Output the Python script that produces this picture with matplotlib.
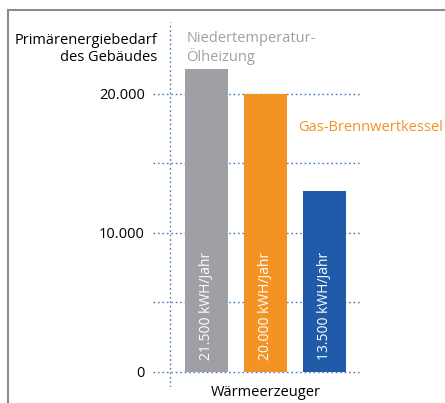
import matplotlib.pyplot as plt
from matplotlib.lines import Line2D

plt.rcParams["font.family"] = ["Open Sans", "DejaVu Sans"]

# data
heater_types = ["Niedertemperatur-\nÖlheizung", "Gas-Brennwertkessel", "Wärmepumpe"]
demand = [21800, 20000, 13000]
bar_labels = ["21.500 kWH/Jahr", "20.000 kWH/Jahr", "13.500 kWH/Jahr"]
y_ticks = [0, 10000, 20000]
y_tick_labels = ["0", "10.000", "20.000"]
grid_levels = [0, 5000, 10000, 15000, 20000]

colors = ["#9ea0a6", "#f39325", "#1f5ba8"]
grid_color = "#4a7cc0"

fig = plt.figure(figsize=(4.45, 4.03), dpi=100)
W, H = 445, 403
# axes spans x 153..360, y 22..387 (pixels from top)
ax = fig.add_axes([153 / W, 1 - 387 / H, (360 - 153) / W, (387 - 22) / H])

x = list(range(len(demand)))
ax.bar(x, demand, width=0.73, color=colors, zorder=3)

for xi, lab in zip(x, bar_labels):
    ax.text(xi, 850, lab, rotation=90, ha="center", va="bottom",
            color="white", fontsize=10, zorder=4)

for g in grid_levels:
    ax.axhline(g, color=grid_color, lw=1.0, ls=(0, (1.2, 2.0)), zorder=1)
ax.axvline(-0.62, color=grid_color, lw=1.0, ls=(0, (1.2, 2.0)), zorder=1)

ax.set_xlim(-0.907, 2.6)
ax.set_ylim(-1080, 25180)
ax.set_xticks([])
ax.set_yticks(y_ticks)
ax.set_yticklabels(y_tick_labels, fontsize=10.5)
ax.tick_params(axis="y", length=0, pad=6)
for s in ax.spines.values():
    s.set_visible(False)

# category labels
ax.text(-0.34, 24500, heater_types[0], color="#9ea0a6", fontsize=10.5,
        ha="left", va="top", linespacing=1.15)
ax.text(1.56, 17600, heater_types[1], color="#f39325", fontsize=10.5,
        ha="left", va="center")

fig.text(157 / W, 1 - 49 / H, "Primärenergiebedarf\ndes Gebäudes",
         ha="right", va="center", fontsize=10.5, linespacing=1.1)
fig.text(266 / W, 1 - 393 / H, "Wärmeerzeuger", ha="center", va="center",
         fontsize=10.5)

# frame
fig.add_artist(Line2D([8 / W, 8 / W], [0, 1 - 10 / H], color="#8c8c8c", lw=1.5,
                      transform=fig.transFigure))
fig.add_artist(Line2D([8 / W, 1], [1 - 10 / H, 1 - 10 / H], color="#8c8c8c", lw=1.5,
                      transform=fig.transFigure))

fig.savefig("out.png", dpi=100)
